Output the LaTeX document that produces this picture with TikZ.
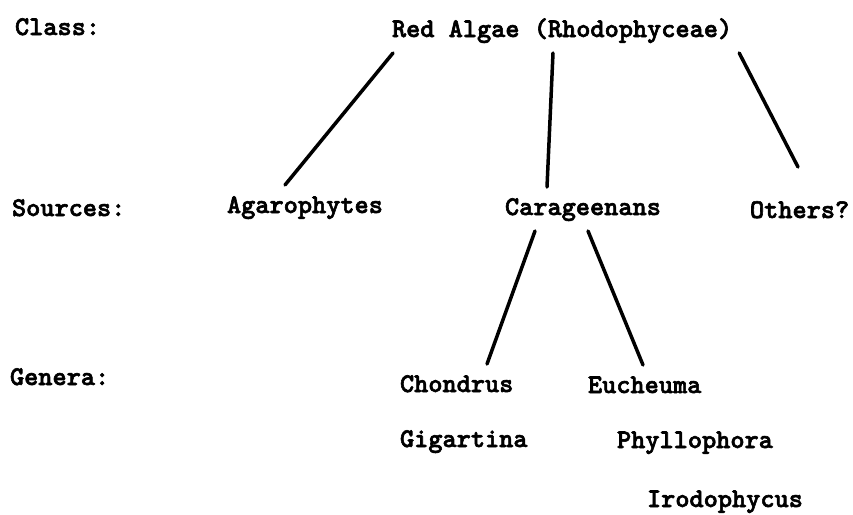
\documentclass[tikz,border=0pt]{standalone}
\usepackage{fontspec}
\newfontfamily\typewr{lmmonolt10-bold.otf}[FakeBold=2.2]
\usepackage{tikz}
\usetikzlibrary{calc}

\begin{document}
\begin{tikzpicture}[x=1pt, y=-1pt,
    word/.style={inner xsep=0pt, inner ysep=10pt, outer sep=0pt,
                 anchor=base west, text height=18pt, text depth=6pt,
                 font=\typewr\fontsize{27}{27}\selectfont},
    link/.style={line width=3.5pt, line cap=round}]
    \useasboundingbox (0,0) rectangle (853,514);

    % Row labels
    \node[word] (lclass)  at (15,35)  {Class:};
    \node[word] (lsource) at (12,216) {Sources:};
    \node[word] (lgenera) at (10,385) {Genera:};

    % Class
    \node[word] (red) at (392,37) {Red Algae (Rhodophyceae)};

    % Sources
    \node[word] (agar)   at (227,213) {Agarophytes};
    \node[word] (carag)  at (505,215) {Carageenans};
    \node[word] (others) at (750,218) {Others?};

    % Genera
    \node[word] (chond) at (400,392) {Chondrus};
    \node[word] (gigar) at (400,447) {Gigartina};
    \node[word] (euch)  at (588,393) {Eucheuma};
    \node[word] (phyll) at (617,448) {Phyllophora};
    \node[word] (irod)  at (647,507) {Irodophycus};

    % Class to sources
    \draw[link] ([xshift=1pt]red.south west) -- ([xshift=58pt]agar.north west);
    \draw[link] ([xshift=161pt]red.south west) -- ([xshift=42pt]carag.north west);
    \draw[link] ([xshift=7pt]red.south east) -- ([xshift=48pt, yshift=23pt]others.north west);

    % Sources to genera
    \draw[link] ([xshift=30pt]carag.south west) -- ([xshift=87pt]chond.north west);
    \draw[link] ([xshift=83pt]carag.south west) -- ([xshift=55pt]euch.north west);
\end{tikzpicture}
\end{document}
